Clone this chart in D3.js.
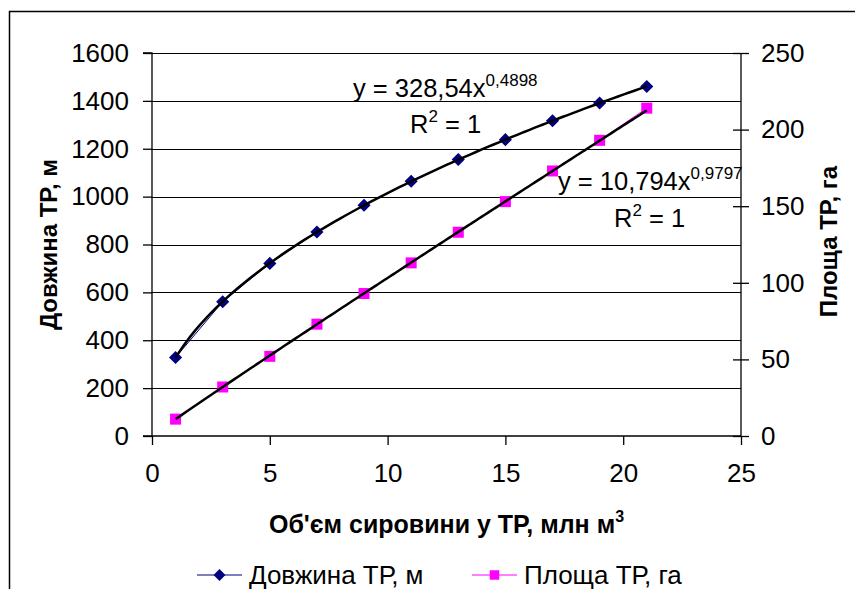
<!DOCTYPE html>
<html>
<head>
<meta charset="utf-8">
<script src="https://cdn.jsdelivr.net/npm/d3@7"></script>
<style>
  body { margin: 0; background: #fff; }
  text { font-family: "Liberation Sans", Arial, sans-serif; fill: #000; }
</style>
</head>
<body>
<script>
// Data
const volume = [1, 3, 5, 7, 9, 11, 13, 15, 17, 19, 21];           // млн м3
const lengthTR = [328, 561, 721, 852, 964, 1064, 1155, 1238, 1317, 1391, 1460]; // м
const areaTR = [11, 32, 52, 73, 93, 113, 133, 153, 173, 193, 214];  // га

const xTicks = [0, 5, 10, 15, 20, 25];
const yLeftTicks = [0, 200, 400, 600, 800, 1000, 1200, 1400, 1600];
const yRightTicks = [0, 50, 100, 150, 200, 250];

const width = 855, height = 589;
const plot = { left: 152, right: 741, top: 53, bottom: 436 };

const svg = d3.select("body").append("svg")
    .attr("width", width)
    .attr("height", height);

// outer chart border (runs off the right/bottom of the picture)
svg.append("rect")
    .attr("x", 9.5).attr("y", 11.5)
    .attr("width", 900).attr("height", 700)
    .attr("fill", "none").attr("stroke", "#000").attr("stroke-width", 1.5);

const x = d3.scaleLinear().domain([0, 25]).range([plot.left, plot.right]);
const yL = d3.scaleLinear().domain([0, 1600]).range([plot.bottom, plot.top]);
const yR = d3.scaleLinear().domain([0, 250]).range([plot.bottom, plot.top]);

// gridlines
svg.append("g").selectAll("line")
    .data(yLeftTicks.filter(d => d > 0))
    .enter().append("line")
    .attr("x1", plot.left).attr("x2", plot.right)
    .attr("y1", d => Math.round(yL(d)) + 0.5).attr("y2", d => Math.round(yL(d)) + 0.5)
    .attr("stroke", "#000").attr("stroke-width", 1.2);

// left axis
const axL = svg.append("g").attr("transform", `translate(${plot.left},0)`)
    .call(d3.axisLeft(yL).tickValues(yLeftTicks).tickFormat(d3.format("d")).tickSize(9).tickPadding(14));
// right axis (cross ticks)
const axR = svg.append("g").attr("transform", `translate(${plot.right},0)`)
    .call(d3.axisRight(yR).tickValues(yRightTicks).tickFormat(d3.format("d")).tickSize(8).tickPadding(12));
axR.selectAll(".tick line").attr("x1", -8);
// bottom axis
const axB = svg.append("g").attr("transform", `translate(0,${plot.bottom})`)
    .call(d3.axisBottom(x).tickValues(xTicks).tickSize(9).tickPadding(19));

[axL, axR, axB].forEach(g => {
  g.select(".domain").attr("stroke", "#000").attr("stroke-width", 1.3);
  g.selectAll(".tick line").attr("stroke", "#000").attr("stroke-width", 1.3);
  g.selectAll(".tick text")
      .style("font-family", '"Liberation Sans", Arial, sans-serif')
      .style("font-size", "26px").attr("fill", "#000");
});
axL.select(".domain").attr("d", `M-9,${plot.bottom}H0V${plot.top}H-9`);
axR.select(".domain").attr("d", `M0,${plot.bottom}V${plot.top}`);
axB.select(".domain").attr("d", `M${plot.left},0H${plot.right}`);

// series lines
const lineL = d3.line().x((d, i) => x(volume[i])).y(d => yL(d));
const lineR = d3.line().x((d, i) => x(volume[i])).y(d => yR(d));
svg.append("path").datum(lengthTR).attr("d", lineL)
    .attr("fill", "none").attr("stroke", "#000080").attr("stroke-width", 1);
svg.append("path").datum(areaTR).attr("d", lineR)
    .attr("fill", "none").attr("stroke", "#FF00FF").attr("stroke-width", 1);

// markers
const diamond = d3.symbol().type(d3.symbolDiamond2).size(110);
svg.append("g").selectAll("path").data(lengthTR).enter().append("path")
    .attr("d", diamond)
    .attr("transform", (d, i) => `translate(${x(volume[i])},${yL(d)})`)
    .attr("fill", "#000080");
svg.append("g").selectAll("rect").data(areaTR).enter().append("rect")
    .attr("x", (d, i) => x(volume[i]) - 5.5).attr("y", d => yR(d) - 5.5)
    .attr("width", 11).attr("height", 11)
    .attr("fill", "#FF00FF");

// power trendlines fitted from the data (least squares in log space)
function powerFit(xs, ys) {
  const lx = xs.map(Math.log), ly = ys.map(Math.log);
  const mx = d3.mean(lx), my = d3.mean(ly);
  const b = d3.sum(lx, (v, i) => (v - mx) * (ly[i] - my)) / d3.sum(lx, v => (v - mx) ** 2);
  const a = Math.exp(my - b * mx);
  return t => a * Math.pow(t, b);
}
const fitL = powerFit(volume, lengthTR);
const fitR = powerFit(volume, areaTR);
const xs = d3.range(1, 21.01, 0.25);
svg.append("path").datum(xs)
    .attr("d", d3.line().x(d => x(d)).y(d => yL(fitL(d))).curve(d3.curveBasis))
    .attr("fill", "none").attr("stroke", "#000").attr("stroke-width", 2.5);
svg.append("path").datum(xs)
    .attr("d", d3.line().x(d => x(d)).y(d => yR(fitR(d))).curve(d3.curveBasis))
    .attr("fill", "none").attr("stroke", "#000").attr("stroke-width", 2.5);

// trendline equations
function equation(xPos, yPos, coef, pow) {
  const t = svg.append("text").attr("x", xPos).attr("y", yPos).style("font-size", "25.5px");
  t.append("tspan").text(`y = ${coef}x`);
  t.append("tspan").attr("dy", -11).style("font-size", "17px").text(pow);
}
function rsq(xPos, yPos) {
  const t = svg.append("text").attr("x", xPos).attr("y", yPos).style("font-size", "25.5px");
  t.append("tspan").text("R");
  t.append("tspan").attr("dy", -11).style("font-size", "17px").text("2");
  t.append("tspan").attr("dy", 11).text(" = 1");
}
equation(353, 97, "328,54", "0,4898");
rsq(410, 133);
equation(558, 190, "10,794", "0,9797");
rsq(614, 227);

// axis titles
svg.append("text")
    .attr("transform", `translate(57,${(plot.top + plot.bottom) / 2}) rotate(-90)`)
    .attr("text-anchor", "middle")
    .style("font-size", "24px").style("font-weight", "bold")
    .text("Довжина ТР, м");
svg.append("text")
    .attr("transform", `translate(837,${(plot.top + plot.bottom) / 2 - 3}) rotate(-90)`)
    .attr("text-anchor", "middle")
    .style("font-size", "24px").style("font-weight", "bold")
    .text("Площа ТР, га");
const xt = svg.append("text")
    .attr("x", x(12.5)).attr("y", 533)
    .attr("text-anchor", "middle")
    .style("font-size", "25px").style("font-weight", "bold");
xt.append("tspan").text("Об'єм сировини у ТР, млн м");
xt.append("tspan").attr("dy", -11).style("font-size", "16px").text("3");

// legend
const legend = [
  { name: "Довжина ТР, м", color: "#000080", shape: "diamond", x0: 197 },
  { name: "Площа ТР, га", color: "#FF00FF", shape: "square", x0: 472 }
];
const lg = svg.append("g").selectAll("g").data(legend).enter().append("g")
    .attr("transform", d => `translate(${d.x0},575)`);
lg.append("line").attr("x1", 0).attr("x2", 45).attr("y1", 0).attr("y2", 0)
    .attr("stroke", d => d.color).attr("stroke-width", 1.2);
lg.append("path")
    .attr("d", d => d.shape === "diamond"
        ? d3.symbol().type(d3.symbolDiamond2).size(90)()
        : d3.symbol().type(d3.symbolSquare).size(90)())
    .attr("transform", "translate(22.5,0)")
    .attr("fill", d => d.color);
lg.append("text").attr("x", 52).attr("y", 9)
    .style("font-size", "26px")
    .text(d => d.name);
</script>
</body>
</html>
